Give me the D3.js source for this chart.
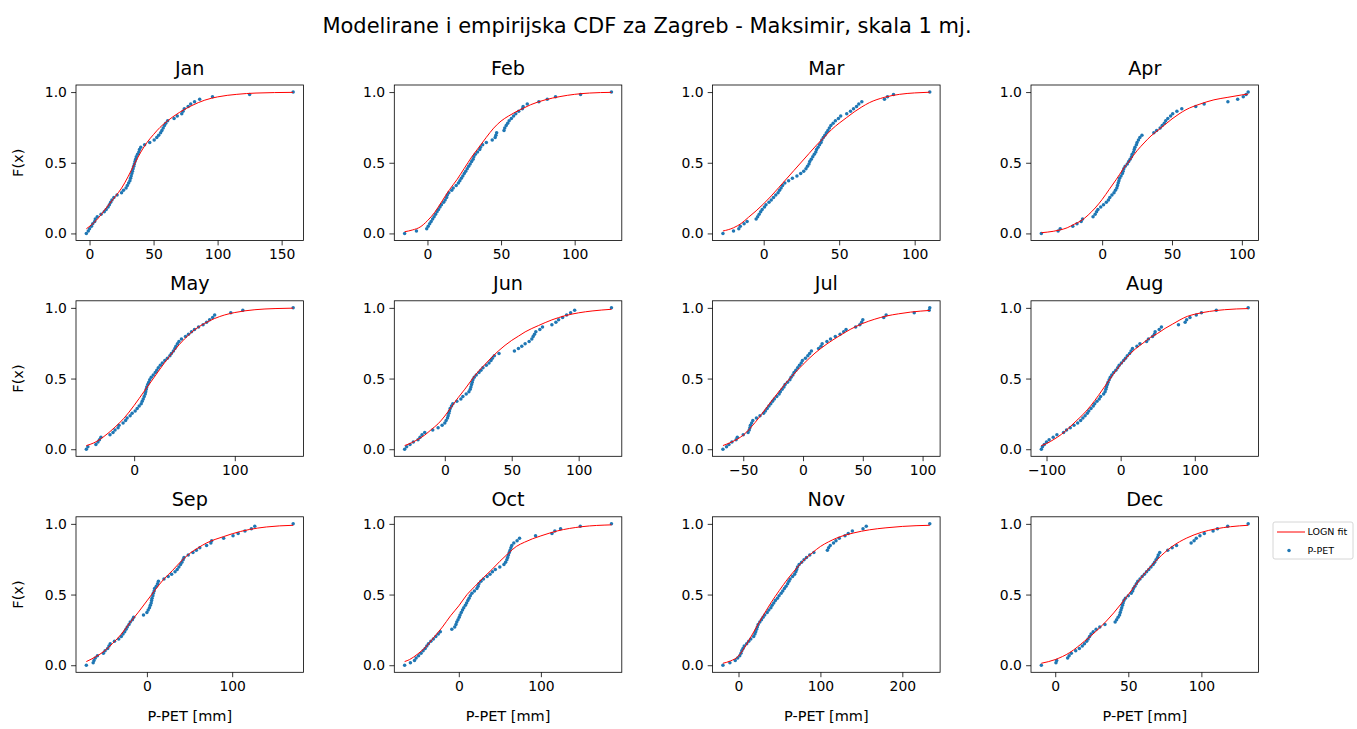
<!DOCTYPE html>
<html><head><meta charset="utf-8">
<script src="https://cdn.jsdelivr.net/npm/d3@7"></script>
<style>body{margin:0;background:#fff}svg text{font-family:"DejaVu Sans",sans-serif}</style>
</head><body><svg id="c" width="1357" height="729"></svg>
<script>
const months = ["Jan","Feb","Mar","Apr","May","Jun","Jul","Aug","Sep","Oct","Nov","Dec"];
const xTickVals = [[0,50,100,150],[0,50,100],[0,50,100],[0,50,100],[0,100],[0,50,100],[-50,0,50,100],[-100,0,100],[0,100],[0,100],[0,100,200],[0,50,100]];
const yTickVals = [0,0.5,1.0];

// P-PET samples (sorted) per month
const sampleJan = [-2.5,-1,0,1.5,2.5,4,4.5,6,9,11.5,13,14.5,15.5,16.5,17.5,19,21.5,25,26.5,28.5,29.5,30.5,31.5,32,32.5,33,33.5,34,34.5,35,35.5,36,36.5,37.5,38.5,39,40,43,47,50.5,52.5,54,55.5,56.5,57.5,58.5,59.5,61,66,68.5,72,73,74,77,79,82,86,96,125,159];
const sampleFeb = [-15.5,-7.5,-0.5,0.5,1.5,2.5,3.5,4.5,5.5,6.5,7.5,8.5,9.5,11,12,13,13.5,14.5,16.5,17.5,19.5,21,22,23,24,25,26,27,28,29,30,31,31.5,32.5,34,35.5,36,37.5,40,44,46,46.5,47,52,52.5,53.5,54.5,55.5,57,58.5,60,62,64.5,65,67.8,75.7,81.4,87,104,125];
const sampleMar = [-27,-20,-16.5,-15.5,-13,-11,-5,-4,-3,-2,-1,0.5,1.5,3.5,5,6.5,8,9.5,10.5,11.5,12.5,14,16.5,19,22,24.5,26.5,28,29,30,30.5,31.5,32.5,33.5,34.5,35,36,37,38,38.5,39.5,40.5,41.5,42.5,43.5,44.5,46,47.5,49.5,51,55,57.5,59.5,61.5,63,65,80,82,86,110];
const sampleApr = [-43.5,-31.5,-30,-21,-18,-15,-14,-6.5,-5,-4,-3,-1,1,3,4.5,5.5,7,8.5,9.5,10.5,11,11.5,12,12.5,13.5,14.5,15,15.5,16.5,18,19,20,21,21.5,22.5,23,23.5,24.5,25,26,27,28.5,37,39,41.5,43,44.5,45.5,47,49,50.5,53.5,57,67,73,90,97,101,103,104.5];
const sampleMay = [-47.5,-46,-38,-36,-34.5,-33,-24,-21,-19,-16,-15,-11,-8.5,-7,-4,-2,1,3,5,7,8,9,10,11,11.5,12,12.5,13.5,14.5,15.5,17,19,21,22.5,24,26,28,30.5,33,35.5,37,39,40.5,41.5,43,44.5,47,51,54,57,60,64,68.5,72,75,78,80,96,108,158];
const sampleJun = [-30,-28.5,-26,-23.5,-20,-18.5,-17,-15,-9,-5,-2,0,1,2,2.5,3,3.5,4,5,6,9,12,13.5,16,18,19,19.5,20,20.5,21,22,23.5,25.5,27,28.5,31,33,34.5,35.5,37,40.5,52,55,57.5,60,63,65,66,67,68,71,73,80,83,85,88,91,94,97,124.5];
const sampleJul = [-67,-64,-62,-59.5,-56,-55,-50,-46,-45,-44.5,-44,-43,-42,-39,-36,-33,-31.5,-30,-28.5,-27,-25.5,-24,-22,-20,-19,-17.5,-16,-15,-13,-11,-10,-8.5,-7.5,-6,-4.5,-3,-1.5,-0.5,2,4,5.5,7,13,15,16,20,23,27,31,34,36,44,47.5,49,50,67.5,69.5,93,105.5,106];
const sampleAug = [-107,-105.5,-103,-100,-96.5,-91,-86,-77,-73,-68,-63,-58,-54,-51,-48,-45,-43,-40,-37,-35,-32,-29,-27,-23,-21,-20,-19,-18,-17,-15.5,-14,-12,-9.5,-6.5,-4,-2,1,4,6.5,9,12,14,16,22,26,35,37.5,43,45.5,46.5,52,55,78,87,89,93.5,102,109,129,172];
const sampleSep = [-71,-63,-62,-60.5,-58,-51,-49,-46,-44.5,-43,-38,-33,-30,-28,-26,-24.5,-23,-21,-19.5,-17,-15.5,-4,0,1.5,3,4,5,5.5,6,7,7.5,8.5,9,11,12.5,13.5,20,25,29,33,35.5,37.5,39.5,41,42.5,43.5,48.5,54,58,62,70,75,76,90,101,107,115,122.5,126.5,171.5];
const sampleOct = [-66,-59,-54,-52,-49,-46,-43.5,-41,-39,-37,-34,-31,-28,-25,-22.5,-8.5,-5,-3.5,-2.5,-1,0.5,1.5,3,4.5,6,8,9.5,11,12.5,14,16,19,22,23.5,24.5,27,30,34.5,38,41,44.5,50,55,57,58.5,59.5,60.5,61.5,62.5,63.5,64.5,67,71,74,93.5,113.5,117,124,148,186];
const sampleNov = [-19,-10.5,-4,-1,1.5,3,4,5.5,7,10,12.5,15,18.5,20,21,22,23,24,26,28,30,32,35,37,39.5,41,43,45,47.5,49.5,52,54,56,58,60,61.5,63,66,68.5,70,71,72,74,77,80,83,87,92,108.5,110,112,116,119,123,130,134,139,152,156,233.5];
const sampleDec = [-9.5,0.5,1,8.5,9.5,11,14,16.5,18.5,20,21.5,22.5,23.5,24.5,26,28,30.5,34,41,42,43,44,44.5,45,45.5,46,46.5,47,48,50,52,53,53.5,54.5,55.5,56.5,58,59.5,61,62.5,64,65.5,67,68,69,70,70.5,71.5,77,80,83,93,95,96.5,99,102,108,111,118,132];

const fitJanX = [-2.5,5,13,20,25,30,35,40,45,50,55,60,70,80,90,100,115,130,159];
const fitJanF = [0.033,0.09,0.18,0.26,0.32,0.40,0.49,0.575,0.645,0.70,0.75,0.79,0.855,0.905,0.943,0.966,0.984,0.993,0.998];
const fitFebX = [-15.5,-10,-5,0,5,10,15,20,25,30,35,40,45,50,55,60,65,70,80,90,100,110,125];
const fitFebF = [0.012,0.025,0.045,0.09,0.15,0.23,0.31,0.38,0.46,0.54,0.61,0.68,0.745,0.795,0.83,0.86,0.885,0.91,0.945,0.968,0.984,0.993,0.998];
const fitMarX = [-27,-20,-15,-10,-5,0,5,10,15,20,25,30,35,40,45,50,55,60,65,70,80,90,100,110];
const fitMarF = [0.017,0.04,0.07,0.115,0.16,0.21,0.265,0.325,0.385,0.445,0.505,0.565,0.625,0.68,0.735,0.78,0.82,0.86,0.895,0.925,0.963,0.984,0.994,0.999];
const fitAprX = [-43.5,-35,-30,-25,-20,-15,-10,-5,0,5,10,15,20,25,30,35,40,45,50,55,60,70,80,90,100,104.5];
const fitAprF = [0.005,0.015,0.025,0.04,0.065,0.09,0.13,0.18,0.24,0.31,0.38,0.455,0.52,0.585,0.64,0.69,0.73,0.77,0.81,0.845,0.875,0.915,0.945,0.963,0.98,0.986];
const fitMayX = [-47.5,-40,-30,-20,-10,0,10,20,30,40,50,60,70,80,90,100,120,140,158];
const fitMayF = [0.026,0.045,0.09,0.15,0.22,0.31,0.41,0.51,0.61,0.70,0.78,0.845,0.89,0.925,0.95,0.967,0.987,0.995,0.998];
const fitJunX = [-30,-25,-20,-15,-10,-5,0,5,10,15,20,25,30,35,40,45,50,55,60,70,80,90,100,110,124.5];
const fitJunF = [0.026,0.045,0.07,0.10,0.14,0.18,0.235,0.30,0.365,0.425,0.49,0.55,0.60,0.65,0.695,0.735,0.77,0.80,0.83,0.875,0.915,0.945,0.965,0.978,0.99];
const fitJulX = [-67,-60,-50,-40,-30,-20,-10,0,10,20,30,40,50,60,70,80,90,106];
const fitJulF = [0.026,0.05,0.10,0.19,0.30,0.41,0.51,0.60,0.68,0.745,0.80,0.85,0.89,0.92,0.943,0.958,0.97,0.982];
const fitAugX = [-107,-100,-90,-80,-70,-60,-50,-40,-30,-20,-10,0,10,20,30,40,50,60,70,80,90,100,120,140,172];
const fitAugF = [0.026,0.04,0.07,0.105,0.15,0.2,0.25,0.31,0.38,0.455,0.53,0.6,0.66,0.71,0.75,0.79,0.82,0.855,0.885,0.915,0.94,0.955,0.975,0.987,0.995];
const fitSepX = [-71,-60,-50,-40,-30,-20,-10,0,10,20,30,40,50,60,70,80,90,100,120,140,171.5];
const fitSepF = [0.026,0.06,0.10,0.155,0.22,0.3,0.375,0.455,0.535,0.61,0.67,0.735,0.79,0.83,0.865,0.89,0.91,0.93,0.96,0.978,0.99];
const fitOctX = [-66,-60,-50,-40,-30,-20,-10,0,10,20,30,40,50,60,70,80,90,100,120,150,186];
const fitOctF = [0.026,0.04,0.08,0.13,0.2,0.27,0.35,0.42,0.5,0.56,0.62,0.675,0.735,0.79,0.84,0.87,0.895,0.915,0.95,0.98,0.993];
const fitNovX = [-19,-10,0,10,20,30,40,50,60,70,80,90,100,110,120,140,160,180,200,233.5];
const fitNovF = [0.014,0.03,0.065,0.15,0.25,0.35,0.445,0.53,0.61,0.68,0.745,0.795,0.84,0.873,0.9,0.935,0.958,0.972,0.982,0.99];
const fitDecX = [-9.5,0,10,20,30,40,50,60,70,80,90,100,110,120,132];
const fitDecF = [0.014,0.04,0.09,0.17,0.26,0.37,0.50,0.635,0.75,0.84,0.9,0.94,0.965,0.98,0.99];

const samples = [sampleJan,sampleFeb,sampleMar,sampleApr,sampleMay,sampleJun,sampleJul,sampleAug,sampleSep,sampleOct,sampleNov,sampleDec];
const fitXs = [fitJanX,fitFebX,fitMarX,fitAprX,fitMayX,fitJunX,fitJulX,fitAugX,fitSepX,fitOctX,fitNovX,fitDecX];
const fitFs = [fitJanF,fitFebF,fitMarF,fitAprF,fitMayF,fitJunF,fitJulF,fitAugF,fitSepF,fitOctF,fitNovF,fitDecF];

const suptitle = "Modelirane i empirijska CDF za Zagreb - Maksimir, skala 1 mj.";
const xLabel = "P-PET [mm]";
const yLabel = "F(x)";
const legendLabels = ["LOGN fit","P-PET"];

// layout
const lefts = [76, 394.3, 712.6, 1031];
const tops = [85, 300.8, 516.8];
const W = 227.5, H = 155.5;
const blue = "#1f77b4", red = "#ff0000";
const tickFont = 13.9, titleFont = 19.2, labelFont = 14.5;

const svg = d3.select("#c");
svg.append("text").attr("x",647).attr("y",33).attr("text-anchor","middle")
  .attr("font-size",21).attr("fill","#000").text(suptitle);

const fmt = v => (v < 0 ? "\u2212" : "") + Math.abs(v);

months.forEach((m,k)=>{
  const col = k % 4, row = Math.floor(k / 4);
  const g = svg.append("g").attr("transform",`translate(${lefts[col]},${tops[row]})`);
  const sample = samples[k], fx = fitXs[k], ff = fitFs[k];
  const [mn,mx] = d3.extent(sample.concat(fx));
  const pad = (mx - mn) * 0.05;
  const x = d3.scaleLinear().domain([mn - pad, mx + pad]).range([0, W]);
  const y = d3.scaleLinear().domain([-0.05, 1.05]).range([H, 0]);
  const n = sample.length;

  g.append("g").selectAll("circle").data(sample).join("circle")
    .attr("cx", d => x(d)).attr("cy", (d,i) => y(i / (n - 1)))
    .attr("r", 1.75).attr("fill", blue);

  const line = d3.line().x(d => x(d[0])).y(d => y(d[1])).curve(d3.curveMonotoneX);
  g.append("path").datum(fx.map((v,i)=>[v, ff[i]])).attr("d", line)
    .attr("fill","none").attr("stroke",red).attr("stroke-width",1);

  g.append("rect").attr("width",W).attr("height",H).attr("fill","none")
    .attr("stroke","#000").attr("stroke-width",0.8);

  const xa = g.append("g").attr("transform",`translate(0,${H})`)
    .call(d3.axisBottom(x).tickValues(xTickVals[k]).tickFormat(fmt).tickSize(4.9).tickPadding(4.2).tickSizeOuter(0));
  const ya = g.append("g")
    .call(d3.axisLeft(y).tickValues(yTickVals).tickFormat(d3.format(".1f")).tickSize(4.9).tickPadding(4.2).tickSizeOuter(0));
  [xa, ya].forEach(a => {
    a.select(".domain").remove();
    a.selectAll("line").attr("stroke","#000").attr("stroke-width",0.8);
    a.selectAll("text").attr("font-size",tickFont).attr("font-family","DejaVu Sans").attr("fill","#000");
  });

  g.append("text").attr("x",W/2).attr("y",-10.5).attr("text-anchor","middle")
    .attr("font-size",titleFont).attr("fill","#000").text(m);

  if (col === 0) {
    g.append("text").attr("transform",`translate(${18 - lefts[0]},${H/2}) rotate(-90)`)
      .attr("text-anchor","middle").attr("dy","0.35em").attr("font-size",labelFont).attr("fill","#000").text(yLabel);
  }
  if (row === 2) {
    g.append("text").attr("x",W/2).attr("y",H+49).attr("text-anchor","middle")
      .attr("font-size",labelFont).attr("fill","#000").text(xLabel);
  }
});

// legend
const lg = svg.append("g").attr("transform","translate(1273,522)");
lg.append("rect").attr("width",80).attr("height",37).attr("rx",2)
  .attr("fill","#fff").attr("fill-opacity",0.8).attr("stroke","#cccccc").attr("stroke-width",0.8);
lg.append("line").attr("x1",4).attr("x2",32).attr("y1",10).attr("y2",10).attr("stroke",red).attr("stroke-width",1);
lg.append("circle").attr("cx",16).attr("cy",28.5).attr("r",1.75).attr("fill",blue);
lg.selectAll("text.lt").data(legendLabels).join("text").attr("class","lt")
  .attr("x",34.5).attr("y",(d,i)=>10 + i*18.5).attr("dy","0.35em")
  .attr("font-size",9.5).attr("fill","#000").text(d=>d);
</script></body></html>
